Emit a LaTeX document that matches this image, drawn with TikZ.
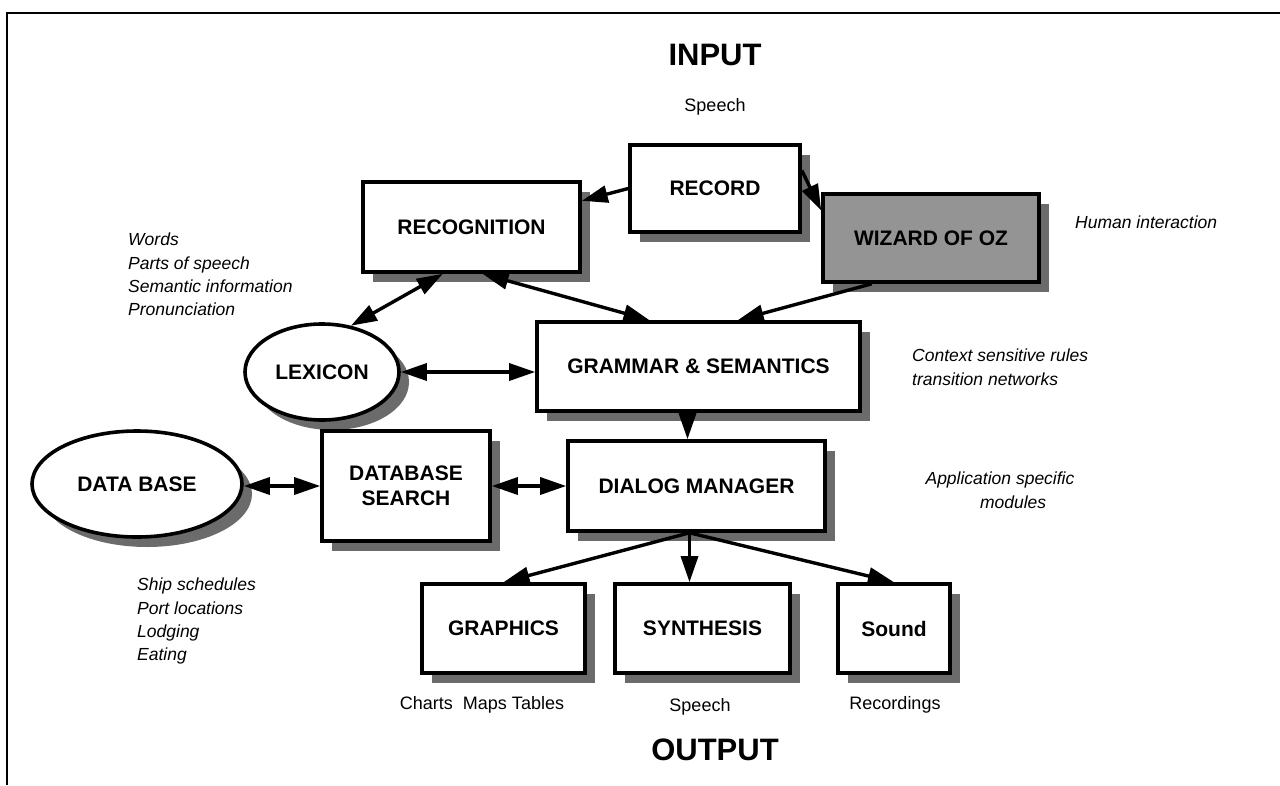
\documentclass[tikz,border=0pt]{standalone}
\usepackage{fontspec}
\setmainfont{Liberation Sans}
\usetikzlibrary{arrows.meta,shapes.geometric,shadows,calc}
\begin{document}
\begin{tikzpicture}[x=1pt,y=-1pt,
  shad/.style={drop shadow={shadow xshift=10pt,shadow yshift=-10pt,fill=black!58,opacity=1}},
  box/.style={draw,line width=3.6pt,fill=white,inner sep=0pt,align=center,
    font=\fontsize{21}{25}\selectfont\bfseries,shad},
  ell/.style={ellipse,draw,line width=3.6pt,fill=white,inner sep=0pt,
    font=\fontsize{21}{25}\selectfont\bfseries,shad},
  ital/.style={inner sep=0pt,align=left,font=\fontsize{17.5}{23.3}\selectfont\itshape},
  small/.style={inner sep=0pt,font=\fontsize{18}{21}\selectfont},
  big/.style={inner sep=0pt,font=\fontsize{31}{36}\selectfont\bfseries},
  arr/.style={line width=3.4pt,-{Triangle[length=26pt,width=17pt]}},
  darr/.style={line width=3.4pt,{Triangle[length=26pt,width=17pt]}-{Triangle[length=26pt,width=17pt]}}
]
\useasboundingbox (0,0) rectangle (1280,785);
\draw[line width=2.5pt] (1280,13) -- (7,13) -- (7,785);

\node[big] (input) at (715,55) {INPUT};
\node[small] (speechin) at (715,107) {Speech};

\node[box,minimum width=170pt,minimum height=87pt] (rec) at (715,188.5) {RECORD};
\node[box,minimum width=217pt,minimum height=90pt] (recog) at (471.5,227) {RECOGNITION};
\node[box,minimum width=216pt,minimum height=88pt,fill=black!42] (woz) at (931,238) {WIZARD OF OZ};
\node[ital,anchor=west] (human) at (1075,222) {Human interaction};

\node[ital,anchor=north west] (words) at (128,233) {Words\\Parts of speech\\Semantic information\\Pronunciation};

\node[ell,minimum width=154pt,minimum height=96pt] (lex) at (322,372) {LEXICON};
\node[box,minimum width=323pt,minimum height=89pt] (gram) at (698.5,366.5) {GRAMMAR \& SEMANTICS};
\node[ital,anchor=north west] (ctx) at (912,349) {Context sensitive rules\\transition networks};

\node[ell,minimum width=210pt,minimum height=106pt] (db) at (137,484) {DATA BASE};
\node[box,minimum width=168pt,minimum height=110pt] (dbs) at (406,486) {DATABASE\\SEARCH};
\node[box,minimum width=257pt,minimum height=90pt] (dia) at (696.5,486) {DIALOG MANAGER};
\node[ital,align=center,anchor=north] (app) at (1000,472) {Application specific\\\hspace*{1.5em}modules};

\node[ital,anchor=north west] (ship) at (137,578) {Ship schedules\\Port locations\\Lodging\\Eating};

\node[box,minimum width=163pt,minimum height=89pt] (gra) at (503.5,628.5) {GRAPHICS};
\node[box,minimum width=175pt,minimum height=89pt] (syn) at (702.5,628.5) {SYNTHESIS};
\node[box,minimum width=112pt,minimum height=89pt] (snd) at (894,628.5) {Sound};

\node[small] (charts) at (482,705) {Charts\ \ Maps Tables};
\node[small] (speechout) at (700,707) {Speech};
\node[small] (recs) at (895,705) {Recordings};
\node[big] (output) at (715,750) {OUTPUT};

% connectors
\draw[arr] (rec.west) -- ($(recog.north east)!0.22!(recog.south east)$);
\draw[arr] ($(rec.north east)!0.3!(rec.south east)$) -- ($(woz.north west)!0.2!(woz.south west)$);
\draw[darr] ($(recog.south west)!0.37!(recog.south east)$) -- (lex.58);
\draw[darr] ($(recog.south west)!0.55!(recog.south east)$) -- ($(gram.north west)!0.35!(gram.north east)$);
\draw[arr] ($(woz.south west)!0.23!(woz.south east)$) -- ($(gram.north west)!0.62!(gram.north east)$);
\draw[darr] (lex.east) -- (lex.east -| gram.west);
\draw[darr] (db.east |- dia.west) -- (dbs.west |- dia.west);
\draw[darr] (dbs.east |- dia.west) -- (dia.west);
\coordinate (gs) at ($(gram.south)+(-11,0)$);
\draw[arr] (gs) -- (gs |- dia.north);
\coordinate (ds) at ($(dia.south)+(-7,0)$);
\draw[arr] (ds) -- ($(gra.north west)!0.5!(gra.north east)$);
\draw[arr] (ds) -- (ds |- syn.north);
\draw[arr] (ds) -- ($(snd.north west)!0.5!(snd.north east)$);
\end{tikzpicture}
\end{document}
